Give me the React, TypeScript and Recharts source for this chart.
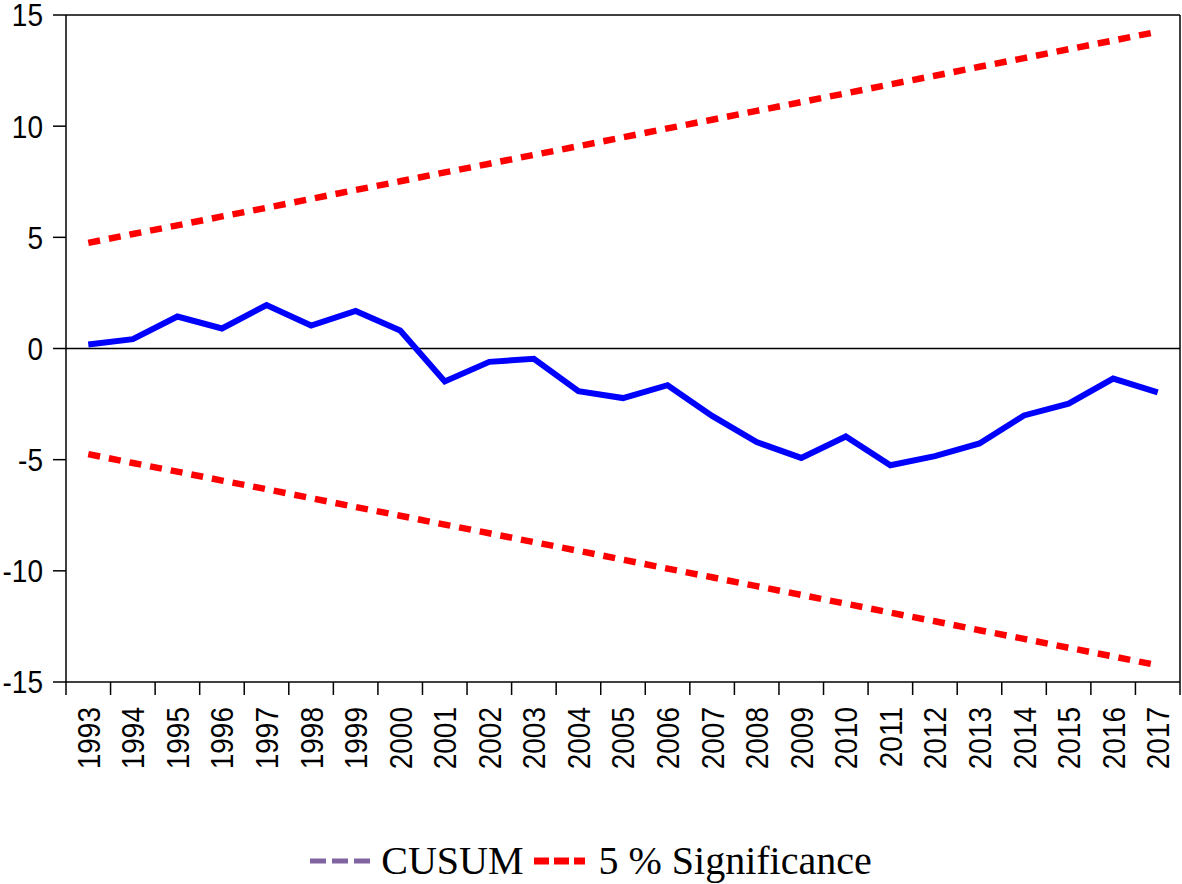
import { LineChart, Line, XAxis, YAxis, ReferenceLine, Legend } from 'recharts';

const years = ['1993', '1994', '1995', '1996', '1997', '1998', '1999', '2000', '2001', '2002', '2003', '2004', '2005', '2006', '2007', '2008', '2009', '2010', '2011', '2012', '2013', '2014', '2015', '2016', '2017'];
const cusum = [0.18, 0.42, 1.44, 0.9, 1.95, 1.03, 1.69, 0.81, -1.48, -0.6, -0.46, -1.92, -2.23, -1.65, -3.03, -4.21, -4.92, -3.96, -5.25, -4.84, -4.27, -3.01, -2.48, -1.35, -1.97];
const upper = [4.75, 5.15, 5.54, 5.94, 6.33, 6.73, 7.13, 7.52, 7.92, 8.31, 8.71, 9.1, 9.5, 9.9, 10.29, 10.69, 11.08, 11.48, 11.88, 12.27, 12.67, 13.06, 13.46, 13.85, 14.25];
const lower = [-4.75, -5.15, -5.54, -5.94, -6.33, -6.73, -7.13, -7.52, -7.92, -8.31, -8.71, -9.1, -9.5, -9.9, -10.29, -10.69, -11.08, -11.48, -11.88, -12.27, -12.67, -13.06, -13.46, -13.85, -14.25];
const yTicks = [-15, -10, -5, 0, 5, 10, 15];

const data = years.map((year, i) => ({ year, cusum: cusum[i], upper: upper[i], lower: lower[i] }));

const W = 1182;
const H = 884;
const Y_AXIS_W = 66;
const MARGIN = { top: 15, right: 1, bottom: 82, left: 0 };
const PLOT_W = W - MARGIN.left - MARGIN.right - Y_AXIS_W - 1;
const STEP = PLOT_W / years.length;
const SANS = '"Liberation Sans", Arial, sans-serif';
const SERIF = '"Liberation Serif", "Times New Roman", serif';
// the labels in the source are a tall, narrow sans
const STRETCH = 1.14;

function YearTick(props: any) {
  const { x, y, payload, index } = props;
  const last = index === years.length - 1;
  return (
    <g>
      <line x1={x - STEP / 2} y1={y} x2={x - STEP / 2} y2={y + 13} stroke="#000" strokeWidth={1.5} />
      {last && <line x1={x + STEP / 2} y1={y} x2={x + STEP / 2} y2={y + 13} stroke="#000" strokeWidth={1.5} />}
      <text
        transform={`translate(${x},${y + 25}) rotate(-90) scale(1,${STRETCH})`}
        textAnchor="end"
        dy="0.36em"
        fontSize={28}
        fontFamily={SANS}
        fill="#000"
      >
        {payload.value}
      </text>
    </g>
  );
}

function ValueTick(props: any) {
  const { x, y, payload } = props;
  return (
    <text
      transform={`translate(${x},${y}) scale(1,${STRETCH})`}
      textAnchor="end"
      dy="0.36em"
      fontSize={28}
      fontFamily={SANS}
      fill="#000"
    >
      {payload.value}
    </text>
  );
}

function LegendBox() {
  return (
    <div style={{ display: 'flex', justifyContent: 'center', alignItems: 'center', fontFamily: SERIF, fontSize: 40, color: '#000', lineHeight: '46px' }}>
      <svg width={60} height={10} style={{ marginRight: 11 }}>
        <line x1={0} y1={5} x2={60} y2={5} stroke="#8064a2" strokeWidth={5} strokeDasharray="16 6" />
      </svg>
      <span>CUSUM</span>
      <svg width={51} height={10} style={{ marginLeft: 10, marginRight: 14 }}>
        <line x1={0} y1={5} x2={51} y2={5} stroke="#ff0000" strokeWidth={7} strokeDasharray="15 5" />
      </svg>
      <span>5 % Significance</span>
    </div>
  );
}

export default function App() {
  return (
    <div style={{ position: 'absolute', left: 0, top: 0, background: '#fff' }}>
      <LineChart width={W} height={H} data={data} margin={MARGIN}>
        <XAxis
          dataKey="year"
          interval={0}
          height={120}
          padding={{ left: STEP / 2, right: STEP / 2 }}
          tickLine={false}
          tickSize={0}
          tickMargin={0}
          axisLine={{ stroke: '#000', strokeWidth: 1.5 }}
          tick={<YearTick />}
        />
        <YAxis
          domain={[-15, 15]}
          ticks={yTicks}
          width={Y_AXIS_W}
          tickSize={13}
          tickMargin={10}
          axisLine={{ stroke: '#000', strokeWidth: 1.5 }}
          tickLine={{ stroke: '#000', strokeWidth: 1.5 }}
          tick={<ValueTick />}
        />
        <YAxis
          yAxisId="right"
          orientation="right"
          domain={[-15, 15]}
          width={1}
          tick={false}
          tickLine={false}
          axisLine={{ stroke: '#000', strokeWidth: 1.5 }}
        />
        <ReferenceLine y={15} stroke="#000" strokeWidth={1.5} />
        <ReferenceLine y={0} stroke="#000" strokeWidth={1.5} />
        <Line dataKey="upper" stroke="#ff0000" strokeWidth={6.5} strokeDasharray="12 9" dot={false} isAnimationActive={false} />
        <Line dataKey="lower" stroke="#ff0000" strokeWidth={6.5} strokeDasharray="12 9" dot={false} isAnimationActive={false} />
        <Line dataKey="cusum" stroke="#0000ff" strokeWidth={6} dot={false} isAnimationActive={false} />
        <Legend
          layout="horizontal"
          verticalAlign="middle"
          align="center"
          content={<LegendBox />}
          wrapperStyle={{ top: 838, left: 0, width: W, height: 46 }}
        />
      </LineChart>
    </div>
  );
}
